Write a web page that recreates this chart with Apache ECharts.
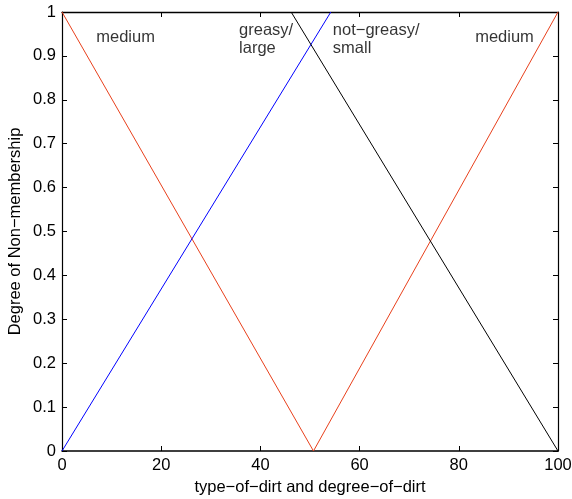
<!DOCTYPE html>
<html><head><meta charset="utf-8">
<script src="https://cdn.jsdelivr.net/npm/echarts@6/dist/echarts.min.js"></script>
<style>html,body{margin:0;padding:0;background:#fff}#c{width:572px;height:499px}</style>
</head><body><div id="c"></div>
<script>
const xTicks = [0, 20, 40, 60, 80, 100];
const yTicks = [0, 0.1, 0.2, 0.3, 0.4, 0.5, 0.6, 0.7, 0.8, 0.9, 1];
const mediumX = [0, 50.7, 100];
const mediumY = [1, 0, 1];
const greasyX = [0, 54.2];
const greasyY = [0, 1];
const notGreasyX = [46.2, 100];
const notGreasyY = [1, 0];
const labelTexts = ['medium', 'greasy/\nlarge', 'not\u2212greasy/\nsmall', 'medium'];
const labelX = [6.9, 35.7, 54.6, 83.3];
const labelY = [0.943, 0.938, 0.938, 0.943];

const font = 'Liberation Sans, Arial, sans-serif';
const fs = 16.5;
const pair = (xs, ys) => xs.map((x, i) => [x, ys[i]]);
const axisCommon = (w) => ({
  axisLine: {show: true, onZero: false, lineStyle: {color: '#000', width: w}},
  axisTick: {show: true, inside: true, length: 5, lineStyle: {color: '#000'}},
  splitLine: {show: false}
});
const chart = echarts.init(document.getElementById('c'));
chart.setOption({
  animation: false,
  backgroundColor: '#fff',
  grid: {left: 62, right: 14, top: 12, bottom: 48, containLabel: false, outerBoundsMode: 'none'},
  xAxis: [
    Object.assign({type: 'value', min: 0, max: 100, interval: 20, position: 'bottom',
      name: 'type\u2212of\u2212dirt and degree\u2212of\u2212dirt', nameLocation: 'middle', nameGap: 25,
      nameTextStyle: {fontFamily: font, fontSize: fs, color: '#000'},
      axisLabel: {fontFamily: font, fontSize: fs, color: '#000', margin: 6}}, axisCommon(1.6)),
    Object.assign({type: 'value', min: 0, max: 100, interval: 20, position: 'top',
      axisLabel: {show: false}}, axisCommon(1.3))
  ],
  yAxis: [
    Object.assign({type: 'value', min: 0, max: 1, interval: 0.1, position: 'left',
      name: 'Degree of Non\u2212membership', nameLocation: 'middle', nameGap: 38, nameMoveOverlap: false,
      nameTextStyle: {fontFamily: font, fontSize: fs, color: '#000'},
      axisLabel: {fontFamily: font, fontSize: fs, color: '#000', margin: 6,
        formatter: v => String(Math.round(v * 10) / 10)}}, axisCommon(1.2)),
    Object.assign({type: 'value', min: 0, max: 1, interval: 0.1, position: 'right',
      axisLabel: {show: false}}, axisCommon(1.2))
  ],
  series: [
    {type: 'line', data: pair(mediumX, mediumY), symbol: 'none', lineStyle: {color: '#e8401c', width: 1}},
    {type: 'line', data: pair(greasyX, greasyY), symbol: 'none', lineStyle: {color: '#0000ff', width: 1}},
    {type: 'line', data: pair(notGreasyX, notGreasyY), symbol: 'none', lineStyle: {color: '#000', width: 1}},
    {type: 'scatter', symbolSize: 0, silent: true,
      data: labelTexts.map((t, i) => ({value: [labelX[i], labelY[i]],
        label: {show: true, formatter: t, position: 'inside', align: 'left', verticalAlign: 'middle',
          fontFamily: font, fontSize: fs, color: '#000', lineHeight: 18}}))}
  ]
});
</script></body></html>
